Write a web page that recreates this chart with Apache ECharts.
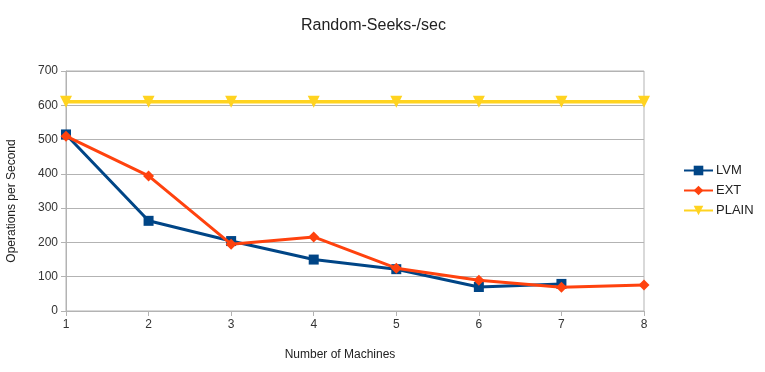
<!DOCTYPE html>
<html><head><meta charset="utf-8">
<script src="https://cdn.jsdelivr.net/npm/echarts@6/dist/echarts.min.js"></script>
<style>html,body{margin:0;padding:0;background:#fff}#c{width:765px;height:372px}</style>
</head><body><div id="c"></div>
<script>
const categories = ['1','2','3','4','5','6','7','8'];
const lvm = [515, 263, 204, 150, 122, 70, 79, null];
const ext = [510, 394, 195, 216, 125, 90, 69, 76];
const plain = [610, 610, 610, 610, 610, 610, 610, 610];
const yTicks = {min: 0, max: 700, interval: 100};

const chart = echarts.init(document.getElementById('c'));
const font = 'Liberation Sans, Arial, sans-serif';
chart.setOption({
  animation: false,
  title: {text: 'Random-Seeks-/sec', left: 296, top: 13,
    textStyle: {fontFamily: font, fontSize: 16, fontWeight: 'normal', color: '#222'}},
  grid: {left: 66, right: 121, top: 71, bottom: 61, show: true, borderColor: '#b3b3b3', borderWidth: 1,
    outerBoundsMode: 'none', containLabel: false},
  legend: {orient: 'vertical', left: 678, top: 159, itemGap: 7, itemWidth: 29, itemHeight: 12,
    textStyle: {fontFamily: font, fontSize: 13, color: '#222', padding: [0, 0, 0, -2]},
    data: ['LVM', 'EXT', 'PLAIN']},
  xAxis: {type: 'category', data: categories, boundaryGap: false,
    name: 'Number of Machines', nameLocation: 'middle', nameGap: 38,
    nameTextStyle: {fontFamily: font, fontSize: 12, color: '#222', padding: [0, 30, 0, 0]},
    axisLine: {lineStyle: {color: '#b3b3b3'}},
    axisTick: {show: true, length: 5, lineStyle: {color: '#b3b3b3'}},
    axisLabel: {fontFamily: font, fontSize: 12, color: '#333', margin: 8},
    splitLine: {show: false}},
  yAxis: {type: 'value', min: yTicks.min, max: yTicks.max, interval: yTicks.interval,
    name: 'Operations per Second', nameLocation: 'middle', nameGap: 48, nameRotate: 90,
    nameTextStyle: {fontFamily: font, fontSize: 12, color: '#222', padding: [0, 20, 0, 0]},
    axisLine: {show: true, lineStyle: {color: '#b3b3b3'}},
    axisTick: {show: true, length: 5, lineStyle: {color: '#b3b3b3'}},
    axisLabel: {fontFamily: font, fontSize: 12, color: '#333', margin: 8},
    splitLine: {lineStyle: {color: '#b3b3b3'}}},
  series: [
    {name: 'LVM', type: 'line', data: lvm, symbol: 'rect', symbolSize: 10,
      lineStyle: {width: 3, color: '#004586'}, itemStyle: {color: '#004586'}, z: 3},
    {name: 'EXT', type: 'line', data: ext, symbol: 'diamond', symbolSize: 11,
      lineStyle: {width: 3, color: '#ff420e'}, itemStyle: {color: '#ff420e'}, z: 4},
    {name: 'PLAIN', type: 'line', data: plain, symbol: 'triangle', symbolRotate: 180, symbolSize: 12,
      lineStyle: {width: 3.5, color: '#ffd320'}, itemStyle: {color: '#ffd320'}, z: 2}
  ]
});
</script></body></html>
